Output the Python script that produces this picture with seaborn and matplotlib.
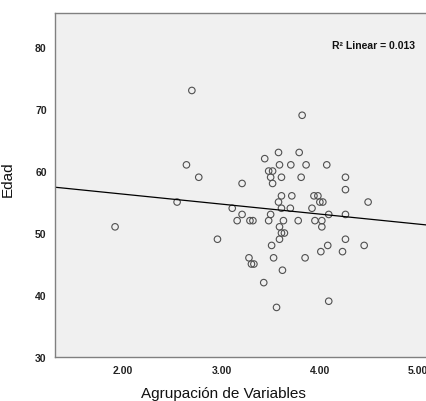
import numpy as np
import pandas as pd
import seaborn as sns
import matplotlib.pyplot as plt

# values
agrupacion = [2.70, 2.645, 2.77, 1.92, 2.55, 3.82, 3.58, 3.79, 3.44, 3.59,
              3.705, 3.86, 4.07, 3.48, 3.52, 3.50, 3.61, 3.81, 4.26, 3.21,
              3.52, 4.26, 3.61, 3.715, 3.94, 3.98, 3.58, 4.00, 4.03, 4.49,
              3.11, 3.61, 3.70, 3.92, 3.21, 3.50, 4.09, 4.26, 3.16, 3.29,
              3.32, 3.48, 3.63, 3.78, 3.95, 4.02, 3.59, 4.02, 3.61, 3.64,
              2.96, 3.59, 4.26, 3.51, 4.08, 4.45, 4.01, 4.23, 3.28, 3.53,
              3.85, 3.305, 3.33, 3.62, 3.43, 4.09, 3.56]
edad = [73, 61, 59, 51, 55, 69, 63, 63, 62, 61,
        61, 61, 61, 60, 60, 59, 59, 59, 59, 58,
        58, 57, 56, 56, 56, 56, 55, 55, 55, 55,
        54, 54, 54, 54, 53, 53, 53, 53, 52, 52,
        52, 52, 52, 52, 52, 52, 51, 51, 50, 50,
        49, 49, 49, 48, 48, 48, 47, 47, 46, 46,
        46, 45, 45, 44, 42, 39, 38]
x_ticks = [2.0, 3.0, 4.0, 5.0]
y_ticks = [30, 40, 50, 60, 70, 80]
r2_label = "R² Linear = 0.013"

df = pd.DataFrame({"Agrupación de Variables": agrupacion, "Edad": edad})

sns.set_style("white")
plt.rcParams['font.family'] = ['Liberation Sans', 'DejaVu Sans']

fig = plt.figure(figsize=(4.27, 4.02), dpi=100)
ax = fig.add_axes([55 / 427, 44 / 402, 384 / 427, 344 / 402])
ax.set_facecolor("#f0f0f0")
# limits first so the fit line runs across the whole frame
ax.set_xlim(1.31, 5.21)
ax.set_ylim(30, 85.5)

sns.scatterplot(data=df, x="Agrupación de Variables", y="Edad", ax=ax,
                marker="o", s=22, facecolors="none", edgecolors="#505050",
                linewidths=0.8)
sns.regplot(data=df, x="Agrupación de Variables", y="Edad", ax=ax,
            scatter=False, ci=None, truncate=False,
            line_kws={"color": "black", "lw": 0.9})

ax.set_xlim(1.31, 5.21)
ax.set_ylim(30, 85.5)
ax.set_xticks(x_ticks)
ax.set_xticklabels(["%.2f" % t for t in x_ticks])
ax.set_yticks(y_ticks)
ax.tick_params(axis="both", direction="out", length=4, width=0.8,
               color="#505050", labelsize=7.5, pad=2)
for lab in ax.get_xticklabels() + ax.get_yticklabels():
    lab.set_fontweight("bold")
    lab.set_color("#222222")

for s in ax.spines.values():
    s.set_color("#808080")
    s.set_linewidth(1.0)

ax.set_xlabel("Agrupación de Variables", fontsize=11, color="#111111")
ax.set_ylabel("Edad", fontsize=11, color="#111111")
ax.xaxis.set_label_coords(0.439, -0.085)
ax.yaxis.set_label_coords(-0.105, 0.52)

ax.text(0.9375, 0.907, r2_label, transform=ax.transAxes, ha="right",
        va="center", fontsize=7.5, fontweight="bold", color="#111111")

fig.savefig("out.png", dpi=100)
